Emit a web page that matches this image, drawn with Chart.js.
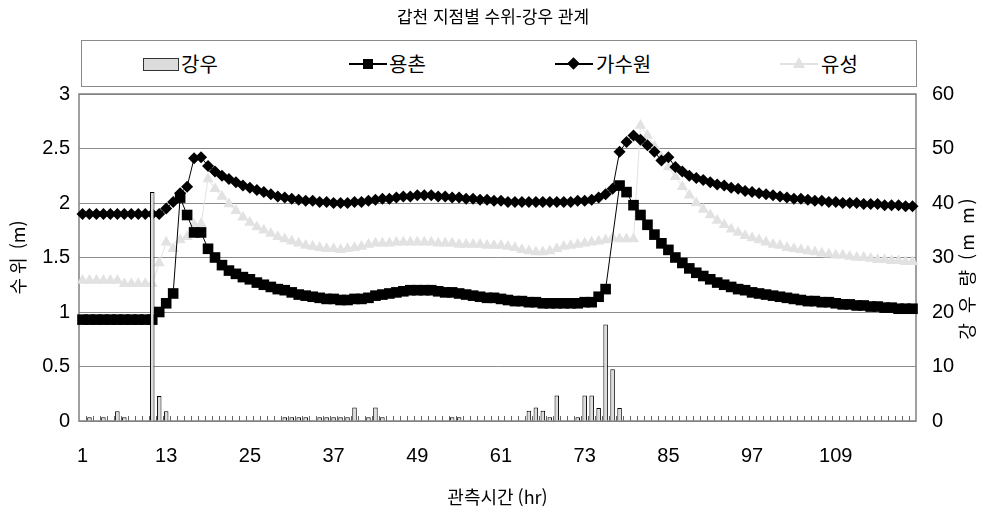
<!DOCTYPE html>
<html lang="ko">
<head>
<meta charset="UTF-8">
<title>갑천 지점별 수위-강우 관계</title>
<script src="https://cdn.jsdelivr.net/npm/chart.js"></script>
<style>
  body { margin: 0; background: #fff; }
  #wrap { position: relative; width: 986px; height: 521px; background: #fff; }
  #title {
    position: absolute; left: 0; top: 3px; width: 986px; text-align: center;
    font-family: "Noto Sans CJK KR", sans-serif; font-size: 17px; color: #000;
  }
  #legend {
    position: absolute; left: 81px; top: 40px; width: 834px; height: 45px;
    border: 1.5px solid #8a8a8a; background: #fff;
  }
  .lg-text {
    position: absolute; top: 50px; font-family: "Noto Sans CJK KR", sans-serif;
    font-size: 20px; line-height: 28px; color: #000;
  }
  .lg-line { position: absolute; top: 63px; height: 2px; background: #000; }
  #c { position: absolute; left: 0; top: 0; }
</style>
</head>
<body>
<div id="wrap">
  <canvas id="c" width="986" height="521"></canvas>
  <div id="title">갑천 지점별 수위-강우 관계</div>
  <div id="legend"></div>
  <!-- 범례 -->
  <div style="position:absolute;left:143px;top:58px;width:34px;height:11px;background:#dcdcdc;border:1.5px solid #333;"></div>
  <div class="lg-text" style="left:181px;">강우</div>

  <div class="lg-line" style="left:349px;width:38px;"></div>
  <div style="position:absolute;left:363px;top:59px;width:10px;height:10px;background:#000;"></div>
  <div class="lg-text" style="left:389px;">용촌</div>

  <div class="lg-line" style="left:555px;width:38px;"></div>
  <div style="position:absolute;left:569px;top:59px;width:9px;height:9px;background:#000;transform:rotate(45deg);"></div>
  <div class="lg-text" style="left:596px;">가수원</div>

  <div class="lg-line" style="left:780px;width:38px;background:#e2e2e2;"></div>
  <div style="position:absolute;left:793px;top:57px;width:0;height:0;border-left:6px solid transparent;border-right:6px solid transparent;border-bottom:11px solid #e2e2e2;"></div>
  <div class="lg-text" style="left:821px;">유성</div>
</div>

<script>
  // 관측시간 (1 ~ 120 hr)
  const hours = [];
  for (let h = 1; h <= 120; h++) hours.push(String(h));
  const xTickLabels = ['1', '13', '25', '37', '49', '61', '73', '85', '97', '109'];

  // 강우 (mm)
  const rain = [
    0, 0.7, 0, 0.7, 0, 1.8, 0.7, 0, 0, 0,
    42, 4.6, 1.8, 0, 0, 0, 0, 0, 0, 0,
    0, 0, 0, 0, 0, 0, 0, 0, 0, 0.7,
    0.7, 0.7, 0.7, 0, 0.7, 0.7, 0.7, 0.7, 0.7, 2.5,
    0, 0.7, 2.5, 0.7, 0, 0, 0, 0, 0, 0,
    0, 0, 0, 0.7, 0.7, 0, 0, 0, 0, 0,
    0, 0, 0, 0, 1.9, 2.5, 1.9, 0.7, 4.7, 0,
    0, 0.7, 4.7, 4.7, 2.4, 17.7, 9.5, 2.4, 0, 0,
    0, 0, 0, 0, 0, 0, 0, 0, 0, 0,
    0, 0, 0, 0, 0, 0, 0, 0, 0, 0,
    0, 0, 0, 0, 0, 0, 0, 0, 0, 0,
    0, 0, 0, 0, 0, 0, 0, 0, 0, 0
  ];

  // 용촌 수위 (m)
  const yongchon = [
    0.93, 0.93, 0.93, 0.93, 0.93, 0.93, 0.93, 0.93, 0.93, 0.93,
    0.93, 1.00, 1.08, 1.17, 2.05, 1.89, 1.73, 1.73, 1.58, 1.50,
    1.43, 1.38, 1.35, 1.32, 1.30, 1.27, 1.25, 1.23, 1.21, 1.20,
    1.18, 1.16, 1.15, 1.14, 1.13, 1.12, 1.12, 1.11, 1.11, 1.12,
    1.12, 1.13, 1.15, 1.16, 1.17, 1.18, 1.19, 1.20, 1.20, 1.20,
    1.20, 1.19, 1.18, 1.18, 1.17, 1.16, 1.15, 1.14, 1.13, 1.13,
    1.12, 1.11, 1.10, 1.10, 1.09, 1.09, 1.08, 1.08, 1.08, 1.08,
    1.08, 1.08, 1.09, 1.09, 1.14, 1.21, null, 2.16, 2.10, 1.98,
    1.89, 1.80, 1.71, 1.63, 1.57, 1.50, 1.45, 1.40, 1.36, 1.33,
    1.30, 1.27, 1.25, 1.23, 1.21, 1.20, 1.18, 1.17, 1.16, 1.15,
    1.14, 1.13, 1.12, 1.11, 1.10, 1.10, 1.09, 1.09, 1.08, 1.07,
    1.07, 1.06, 1.06, 1.05, 1.05, 1.04, 1.04, 1.03, 1.03, 1.03
  ];

  // 가수원 수위 (m)
  const gasuwon = [
    1.90, 1.90, 1.90, 1.90, 1.90, 1.90, 1.90, 1.90, 1.90, 1.90,
    1.90, 1.90, 1.95, 2.01, 2.09, 2.15, 2.41, 2.42, 2.34, 2.29,
    2.25, 2.22, 2.19, 2.16, 2.14, 2.12, 2.10, 2.08, 2.06, 2.05,
    2.04, 2.03, 2.02, 2.02, 2.01, 2.01, 2.00, 2.00, 2.00, 2.01,
    2.01, 2.02, 2.03, 2.04, 2.04, 2.05, 2.06, 2.06, 2.07, 2.07,
    2.07, 2.06, 2.06, 2.05, 2.05, 2.04, 2.04, 2.03, 2.03, 2.02,
    2.02, 2.01, 2.01, 2.01, 2.01, 2.01, 2.01, 2.01, 2.01, 2.01,
    2.01, 2.02, 2.02, 2.03, 2.05, 2.08, 2.13, 2.47, 2.56, 2.62,
    2.58, 2.53, 2.47, 2.39, 2.42, 2.33, 2.29, 2.25, 2.23, 2.21,
    2.19, 2.17, 2.16, 2.14, 2.13, 2.11, 2.10, 2.09, 2.08, 2.07,
    2.06, 2.05, 2.04, 2.04, 2.03, 2.02, 2.02, 2.01, 2.01, 2.00,
    2.00, 2.00, 1.99, 1.99, 1.99, 1.98, 1.98, 1.98, 1.97, 1.97
  ];

  // 유성 수위 (m)
  const yuseong = [
    1.29, 1.29, 1.29, 1.29, 1.29, 1.29, 1.26, 1.26, 1.26, 1.26,
    1.26, 1.45, 1.64, 1.58, 1.66, 1.69, 1.80, 1.81, 2.22, 2.13,
    2.06, 1.99, 1.93, 1.87, 1.82, 1.78, 1.75, 1.72, 1.69, 1.67,
    1.65, 1.63, 1.61, 1.60, 1.59, 1.58, 1.58, 1.57, 1.58, 1.59,
    1.60, 1.62, 1.63, 1.63, 1.63, 1.64, 1.64, 1.64, 1.64, 1.64,
    1.64, 1.63, 1.63, 1.63, 1.62, 1.62, 1.62, 1.62, 1.61, 1.61,
    1.61, 1.60, 1.59, 1.57, 1.56, 1.55, 1.55, 1.56, 1.58, 1.60,
    1.61, 1.62, 1.63, 1.64, 1.65, 1.66, 1.68, 1.67, 1.67, 1.67,
    2.71, 2.62, 2.52, 2.42, 2.33, 2.24, 2.15, 2.07, 2.00, 1.94,
    1.89, 1.84, 1.80, 1.76, 1.73, 1.70, 1.68, 1.66, 1.64, 1.62,
    1.61, 1.59, 1.58, 1.57, 1.56, 1.55, 1.54, 1.53, 1.52, 1.52,
    1.51, 1.50, 1.50, 1.49, 1.48, 1.48, 1.47, 1.47, 1.46, 1.46
  ];

  const numFont = { family: "'Liberation Sans Narrow', 'Liberation Sans', Arial, sans-serif", size: 20 };
  const korFont = { family: "'Noto Sans CJK KR', sans-serif", size: 18 };

  // 플롯 테두리 + 안쪽 눈금 + 오른쪽 축 제목
  const framePlugin = {
    id: 'frame',
    beforeDatasetsDraw(chart) {
      const { ctx, chartArea: a } = chart;
      const n = hours.length;
      const step = (a.right - a.left) / n;
      ctx.save();
      ctx.strokeStyle = '#666';
      ctx.lineWidth = 1;
      ctx.beginPath();
      for (let i = 1; i < n; i++) {
        const x = Math.round(a.left + i * step) + 0.5;
        ctx.moveTo(x, a.bottom);
        ctx.lineTo(x, a.bottom - 5);
      }
      ctx.stroke();
      ctx.strokeStyle = '#808080';
      ctx.lineWidth = 1.5;
      ctx.strokeRect(a.left, a.top, a.right - a.left, a.bottom - a.top);
      ctx.restore();
    },
    afterDraw(chart) {
      const { ctx, chartArea: a } = chart;
      ctx.save();
      ctx.translate(967, (a.top + a.bottom) / 2 + 10);
      ctx.rotate(-Math.PI / 2);
      ctx.font = "18px 'Noto Sans CJK KR', sans-serif";
      ctx.letterSpacing = '3px';
      ctx.fillStyle = '#000';
      ctx.textAlign = 'center';
      ctx.textBaseline = 'middle';
      ctx.fillText('강 우 량 (m m)', 0, 0);
      ctx.restore();
    }
  };

  new Chart(document.getElementById('c'), {
    data: {
      labels: hours,
      datasets: [
        {
          type: 'bar', label: '강우', data: rain, yAxisID: 'y1',
          backgroundColor: '#dcdcdc', borderColor: '#000', borderWidth: 1,
          barPercentage: 0.65, categoryPercentage: 1, order: 0
        },
        {
          type: 'line', label: '용촌', data: yongchon, yAxisID: 'y',
          borderColor: '#000', borderWidth: 1, pointStyle: 'rect', pointRadius: 7.5,
          pointBackgroundColor: '#000', pointBorderColor: '#000', pointBorderWidth: 0,
          spanGaps: true, tension: 0, clip: false, order: 1
        },
        {
          type: 'line', label: '가수원', data: gasuwon, yAxisID: 'y',
          borderColor: '#000', borderWidth: 1, pointStyle: 'rectRot', pointRadius: 6,
          pointBackgroundColor: '#000', pointBorderColor: '#000', pointBorderWidth: 0,
          tension: 0, clip: false, order: 2
        },
        {
          type: 'line', label: '유성', data: yuseong, yAxisID: 'y',
          borderColor: '#e2e2e2', borderWidth: 1, pointStyle: 'triangle', pointRadius: 6.5,
          pointBackgroundColor: '#e2e2e2', pointBorderColor: '#e2e2e2', pointBorderWidth: 0,
          tension: 0, clip: false, order: 3
        }
      ]
    },
    options: {
      responsive: false,
      animation: false,
      layout: { padding: { top: 94, left: 0, right: 0, bottom: 0 } },
      plugins: { legend: { display: false }, tooltip: { enabled: false } },
      scales: {
        x: {
          type: 'category', offset: true,
          grid: { display: false }, border: { display: false },
          ticks: {
            autoSkip: false, maxRotation: 0, padding: 15, color: '#000', font: numFont,
            callback(v) {
              const l = this.getLabelForValue(v);
              return xTickLabels.includes(l) ? l : '';
            }
          },
          title: { display: true, text: '관측시간 (hr)', color: '#000', font: korFont, padding: { top: 0, bottom: 13 } },
          afterFit(s) { s.height = 100; }
        },
        y: {
          position: 'left', min: 0, max: 3,
          grid: { color: '#8c8c8c', lineWidth: 1, drawTicks: false }, border: { display: false },
          ticks: { stepSize: 0.5, padding: 9, color: '#000', font: numFont, callback: v => String(v) },
          title: { display: true, text: '수 위  (m)', color: '#000', font: korFont, padding: { top: 7, bottom: 0 } },
          afterFit(s) { s.width = 79; }
        },
        y1: {
          position: 'right', min: 0, max: 60,
          grid: { drawOnChartArea: false, drawTicks: false }, border: { display: false },
          ticks: { stepSize: 10, padding: 16, color: '#000', font: numFont, callback: v => String(v) },
          afterFit(s) { s.width = 70; }
        }
      }
    },
    plugins: [framePlugin]
  });
</script>
</body>
</html>
